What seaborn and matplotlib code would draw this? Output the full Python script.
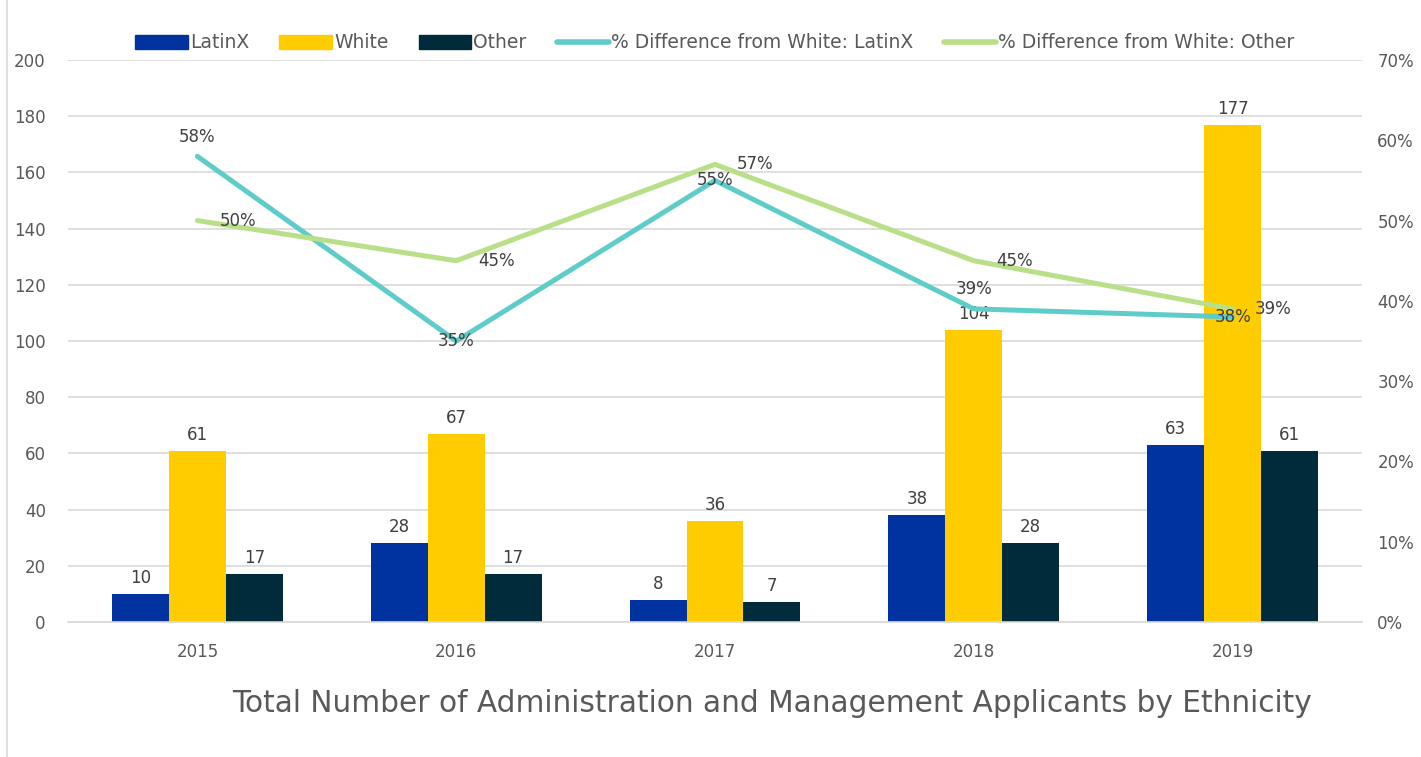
import seaborn as sns
import pandas as pd
import matplotlib.pyplot as plt
from matplotlib.patches import Patch
from matplotlib.lines import Line2D

years = ['2015', '2016', '2017', '2018', '2019']
latinx = [10, 28, 8, 38, 63]
white = [61, 67, 36, 104, 177]
other = [17, 17, 7, 28, 61]
pct_latinx = [0.58, 0.35, 0.55, 0.39, 0.38]
pct_other = [0.50, 0.45, 0.57, 0.45, 0.39]

groups = ['LatinX', 'White', 'Other']
bar_colors = ['#0033a0', '#ffcc00', '#002b3a']
line_names = ['% Difference from White: LatinX', '% Difference from White: Other']
line_colors = ['#5ecdc9', '#b9df89']

text_color = '#595959'
label_color = '#404040'

bars = pd.DataFrame({'year': years, 'LatinX': latinx, 'White': white, 'Other': other})
bars = bars.melt(id_vars=['year'], var_name='group', value_name='count')
lines = pd.DataFrame({'year': years, line_names[0]: pct_latinx, line_names[1]: pct_other})
lines = lines.melt(id_vars=['year'], var_name='series', value_name='pct')

sns.set_style('white')
plt.rcParams['font.family'] = ['DejaVu Sans']

fig = plt.figure(figsize=(14.21, 7.57), dpi=100)
ax = fig.add_axes([68 / 1421, 135 / 757, (1362 - 68) / 1421, 562 / 757])

sns.barplot(data=bars, x='year', y='count', hue='group', hue_order=groups,
            palette=bar_colors, width=0.66, saturation=1, linewidth=0,
            ax=ax, legend=False)
for cont in ax.containers:
    ax.bar_label(cont, padding=5, fontsize=12, color=label_color)

ax.set_ylim(0, 200)
ax.set_yticks(range(0, 201, 20))
ax.yaxis.grid(True, color='#d9d9d9', linewidth=1.2)
ax.set_axisbelow(True)
for s in ['top', 'left', 'right']:
    ax.spines[s].set_visible(False)
ax.spines['bottom'].set_color('#d9d9d9')
ax.spines['bottom'].set_linewidth(1.2)
ax.tick_params(axis='y', length=0, pad=16, labelsize=12, labelcolor=text_color)
ax.tick_params(axis='x', length=0, pad=15, labelsize=12, labelcolor=text_color)
ax.set_xlabel('')
ax.set_ylabel('')

ax2 = ax.twinx()
sns.pointplot(data=lines, x='year', y='pct', hue='series', hue_order=line_names,
              palette=line_colors, marker='', linewidth=3.6, errorbar=None,
              ax=ax2, legend=False)
ax2.set_ylim(0, 0.70)
ax2.set_yticks([i / 10 for i in range(8)])
ax2.set_yticklabels([f'{i * 10}%' for i in range(8)])
ax2.tick_params(axis='y', length=0, pad=11, labelsize=12, labelcolor=text_color)
ax2.set_ylabel('')
ax2.grid(False)
for s in ax2.spines.values():
    s.set_visible(False)

# label placement as in the original (above / centered / right of point)
latinx_pos = ['above', 'center', 'center', 'above', 'center']
for i, (v, pos) in enumerate(zip(pct_latinx, latinx_pos)):
    off = (0, 14) if pos == 'above' else (0, 0)
    ax2.annotate(f'{v:.0%}', (i, v), xytext=off, textcoords='offset points',
                 ha='center', va='center', fontsize=12, color=label_color)
for i, v in enumerate(pct_other):
    ax2.annotate(f'{v:.0%}', (i, v), xytext=(16, 0), textcoords='offset points',
                 ha='left', va='center', fontsize=12, color=label_color)

handles = [Patch(color=c) for c in bar_colors] + \
          [Line2D([], [], color=c, linewidth=4) for c in line_colors]
fig.legend(handles, groups + line_names, loc='center', bbox_to_anchor=(715 / 1421, 1 - 43 / 757),
           ncol=5, frameon=False, fontsize=13.5, labelcolor=text_color,
           handlelength=2.8, handleheight=0.8, handletextpad=0.12, columnspacing=1.6)

fig.text(772 / 1421, 1 - 703 / 757, 'Total Number of Administration and Management Applicants by Ethnicity',
         ha='center', va='center', fontsize=21.3, color=text_color)

fig.add_artist(Line2D([7 / 1421, 7 / 1421], [0, 1], color='#d9d9d9', linewidth=1.2))

fig.savefig('out.png', dpi=100)
